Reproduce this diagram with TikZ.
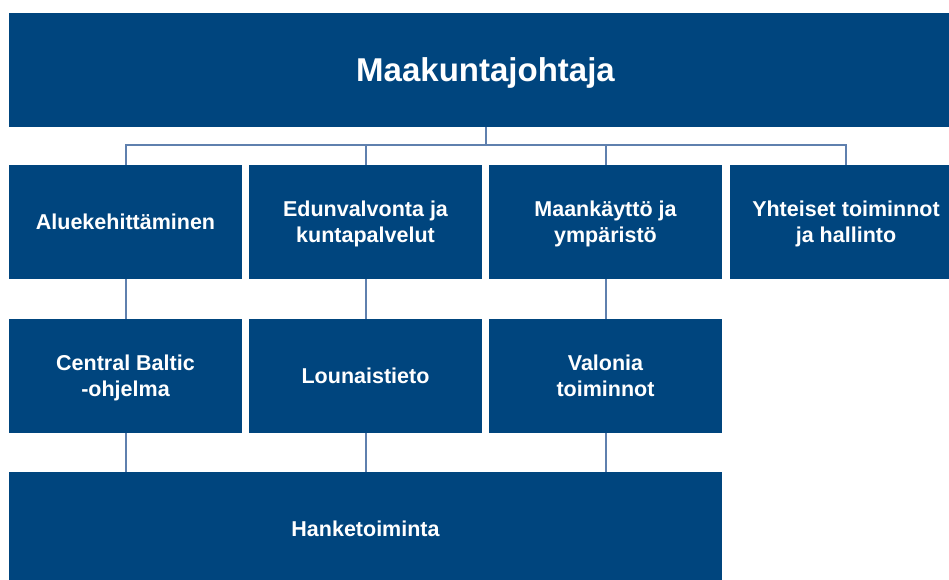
\documentclass[tikz,border=0pt]{standalone}
\usepackage{fontspec}
\setmainfont{Liberation Sans}
\definecolor{orgblue}{HTML}{00457E}
\definecolor{linkblue}{HTML}{5F80AE}
\begin{document}
\begin{tikzpicture}[x=1pt, y=-1pt] % one unit = one pixel, y downwards

        % Define parameters
        \def\w{233}   % box width
        \def\h{114}   % box height
        \def\busy{145} % height of the bus line

        \tikzset{
          unit/.style={fill=orgblue, text=white, inner sep=0pt, align=center,
            minimum width=\w, minimum height=\h, text depth=-2pt,
            font=\fontsize{21.5}{26}\selectfont\bfseries},
          link/.style={draw=linkblue, line width=2pt}
        }

        \useasboundingbox (0,0) rectangle (949,580);

        % top box
        \node[unit, minimum width=953, font=\fontsize{33}{38}\selectfont\bfseries] (top) at (485.5,70) {Maakuntajohtaja};

        % first row
        \node[unit] (alue) at (125.5,222) {Aluekehittäminen};
        \node[unit] (edun) at (365.5,222) {Edunvalvonta ja\\kuntapalvelut};
        \node[unit] (maan) at (605.5,222) {Maankäyttö ja\\ympäristö};
        \node[unit] (yht) at (846,222) {Yhteiset toiminnot\\ja hallinto};

        % second row
        \node[unit] (cb) at (125.5,376) {Central Baltic\\-ohjelma};
        \node[unit] (lounais) at (365.5,376) {Lounaistieto};
        \node[unit] (valonia) at (605.5,376) {Valonia\\toiminnot};

        % bottom box
        \node[unit, minimum width=713] (hanke) at (365.5,529) {Hanketoiminta};

        % bus
        \coordinate (bus) at (485.5,\busy);
        \draw[link] (top.south) -- (bus);
        \draw[link] (alue.north) |- (bus) -| (yht.north);
        \draw[link] (edun.north) -- (edun.north |- bus);
        \draw[link] (maan.north) -- (maan.north |- bus);

        % columns
        \draw[link] (alue.south) -- (cb.north);
        \draw[link] (edun.south) -- (lounais.north);
        \draw[link] (maan.south) -- (valonia.north);
        \draw[link] (cb.south) -- (cb.south |- hanke.north);
        \draw[link] (lounais.south) -- (lounais.south |- hanke.north);
        \draw[link] (valonia.south) -- (valonia.south |- hanke.north);

    \end{tikzpicture}
\end{document}
